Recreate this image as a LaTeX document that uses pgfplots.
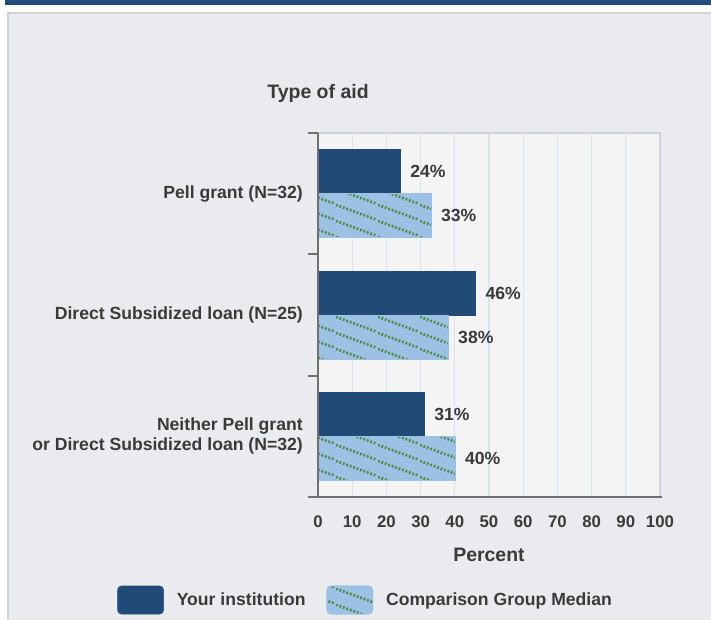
\documentclass[border=0pt]{standalone}
\usepackage{pgfplots}
\pgfplotsset{compat=1.18}
\usepackage{fontspec}
\setmainfont{Liberation Sans}
\usetikzlibrary{patterns.meta}
\definecolor{stripblue}{HTML}{224D7B}
\definecolor{panelbg}{HTML}{EAEBEF}
\definecolor{panelborder}{HTML}{D2D3D6}
\definecolor{plotbg}{HTML}{F4F4F4}
\definecolor{gridc}{HTML}{DAE2EE}
\definecolor{darkbar}{HTML}{214A77}
\definecolor{lightbar}{HTML}{9DC1E4}
\definecolor{dotgreen}{HTML}{4E8A45}
\definecolor{txt}{HTML}{3A3A3A}
\definecolor{axisgray}{HTML}{707070}

\tikzdeclarepattern{
  name=dotdiag,
  type=colored,
  bounding box={(0,0) and (31.5pt,12pt)},
  tile size={(31.5pt,12pt)},
  code={
    \draw[dotgreen, line width=2.1pt, dash pattern=on 1.4pt off 1.4pt] (0pt,12pt) -- (31.5pt,0pt);
  }
}

\newcommand{\lblfont}{\bfseries\fontsize{13.2}{15}\selectfont}
\newcommand{\ttlfont}{\bfseries\fontsize{14.6}{16}\selectfont}
\newcommand{\tckfont}{\bfseries\fontsize{12.6}{14}\selectfont}

\begin{document}
\begin{tikzpicture}
\fill[white] (0,0) rectangle (533.25pt,-465pt);
\fill[stripblue] (3.75pt,0) rectangle (533.25pt,-3.75pt);
\fill[panelbg] (5.25pt,-9pt) rectangle (533.25pt,-465pt);
\draw[panelborder, line width=1.5pt] (6pt,-465pt) -- (6pt,-9.75pt) -- (533.25pt,-9.75pt);

\begin{axis}[
  at={(238.5pt,-372.75pt)}, anchor=south west,
  scale only axis, width=256.5pt, height=273pt,
  xmin=0, xmax=100, ymin=0, ymax=3,
  xtick={0,10,...,100},
  ytick={0.5,1.5,2.5},
  yticklabels={{Neither Pell grant\\or Direct Subsidized loan (N=32)}, {Direct Subsidized loan (N=25)}, {Pell grant (N=32)}},
  major tick length=0pt,
  xmajorgrids, grid style={gridc, line width=1pt},
  axis line style={draw=panelborder, line width=1pt},
  axis background/.style={fill=plotbg},
  /pgf/number format/assume math mode=true,
  xticklabel style={font=\tckfont, text=txt, anchor=center, yshift=-18.75pt},
  yticklabel style={font=\lblfont, text=txt, align=right, anchor=east, inner sep=0pt, xshift=-11.25pt},
  extra y ticks={0,1,2,3}, extra y tick labels={},
  extra y tick style={major tick length=7.5pt, tick align=outside, grid=none, tick style={axisgray, line width=1.5pt}},
  tick pos=left,
  title={Type of aid}, title style={at={(0,1)}, anchor=center, yshift=24pt, font=\ttlfont, text=txt},
  xlabel={Percent}, xlabel style={at={(0.5,0)}, anchor=center, yshift=-43.5pt, font=\ttlfont, text=txt},
  nodes near coords={\pgfmathprintnumber{\pgfplotspointmeta}\%},
  nodes near coords style={font=\lblfont, text=txt, anchor=west, inner sep=0pt, xshift=7.5pt},
  point meta=x,
  legend image code/.code={\draw[#1, rounded corners=3pt] (0pt,-10.5pt) rectangle (34.5pt,10.5pt);},
  legend style={at={(-0.5877,-0.283)}, anchor=west, draw=none, fill=none, inner sep=0pt, legend columns=2,
    font=\lblfont, text=txt, nodes={inner sep=0pt},
    /tikz/every odd column/.append style={column sep=9.75pt},
    /tikz/every even column/.append style={column sep=15.75pt}},
  clip=false,
]
\addplot[xbar, bar width=33pt, bar shift=16.5pt, fill=darkbar, draw=darkbar,
  every node near coord/.append style={yshift=16.5pt}] coordinates {(24,2.5) (46,1.5) (31,0.5)};
\addplot[xbar, bar width=33pt, bar shift=-16.5pt, fill=lightbar, draw=lightbar, postaction={pattern=dotdiag},
  every node near coord/.append style={yshift=-16.5pt}] coordinates {(33,2.5) (38,1.5) (40,0.5)};
\legend{Your institution, Comparison Group Median}
\draw[axisgray, line width=1.5pt] (rel axis cs:0,0) -- (rel axis cs:0,1);
\draw[axisgray, line width=1.5pt] ([xshift=-6pt]rel axis cs:0,0) -- ([xshift=1.5pt]rel axis cs:1,0);
\end{axis}
\pgfresetboundingbox
\useasboundingbox (0,0) rectangle (533.25pt,-465pt);
\end{tikzpicture}
\end{document}
